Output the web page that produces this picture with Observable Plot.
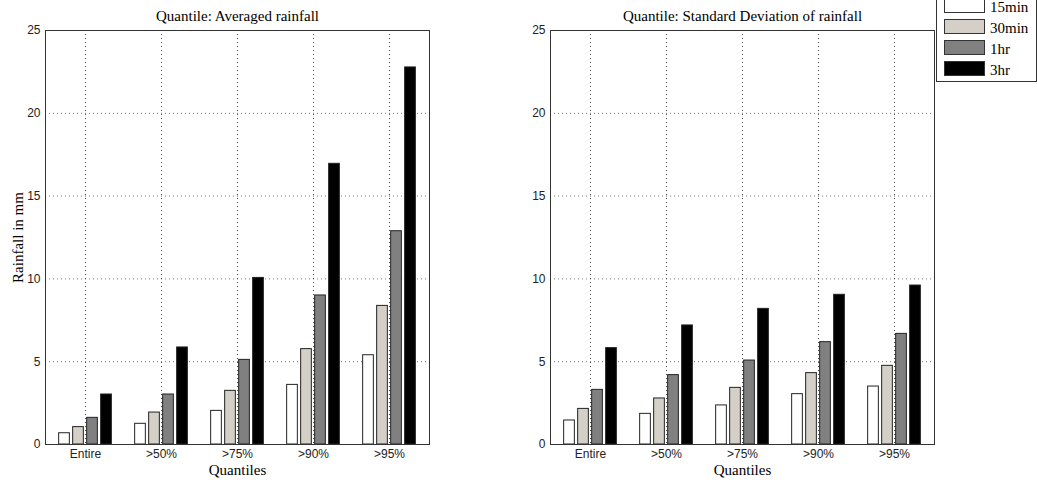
<!DOCTYPE html>
<html>
<head>
<meta charset="utf-8">
<script src="https://cdn.jsdelivr.net/npm/d3@7"></script>
<script src="https://cdn.jsdelivr.net/npm/@observablehq/plot@0.6"></script>
<style>
  html, body { margin: 0; padding: 0; background: #fff; }
  #wrap { position: relative; width: 1037px; height: 480px; overflow: hidden; }
  .panel { position: absolute; top: 0; }
  #legend { position: absolute; left: 936px; top: -5px; width: 99px; height: 85px;
            border: 1px solid #333; background: #fff; font-family: "Liberation Serif", serif; font-size: 15px; }
  .row { position: absolute; left: 7px; height: 16px; }
  .sw { position: absolute; left: 0; top: 0; width: 41px; height: 15px; border: 1px solid #333; box-sizing: border-box; }
  .lb { position: absolute; left: 46px; top: 2px; line-height: 14px; color: #000; white-space: nowrap; }
</style>
</head>
<body>
<div id="wrap"></div>
<script>
// ---- data ----
const quantiles = ["Entire", ">50%", ">75%", ">90%", ">95%"];
const series = ["15min", "30min", "1hr", "3hr"];
const colors = ["#ffffff", "#d4d0c8", "#808080", "#000000"];
const yTicks = [0, 5, 10, 15, 20, 25];

const avg15 = [0.68, 1.25, 2.03, 3.60, 5.39];
const avg30 = [1.05, 1.93, 3.24, 5.76, 8.37];
const avg1h = [1.61, 3.02, 5.11, 9.00, 12.88];
const avg3h = [3.02, 5.86, 10.06, 16.95, 22.77];

const sd15 = [1.45, 1.85, 2.36, 3.04, 3.50];
const sd30 = [2.15, 2.78, 3.42, 4.31, 4.75];
const sd1h = [3.30, 4.19, 5.07, 6.18, 6.68];
const sd3h = [5.82, 7.19, 8.19, 9.04, 9.60];

const titles = ["Quantile: Averaged rainfall", "Quantile: Standard Deviation of rainfall"];

function makePanel(values, title, showYLabel) {
  const W = 518, H = 480, ml = 45, mr = 89, mt = 30, mb = 36;
  const band = (W - ml - mr) / quantiles.length;
  const barW = 11.5, step = 14;
  const serif = "Liberation Serif, Times New Roman, serif";
  const sans = "Liberation Sans, Arial, sans-serif";
  const marks = [
    Plot.gridY(yTicks, {stroke: "#777", strokeOpacity: 1, strokeDasharray: "1,3"}),
    Plot.gridX(quantiles, {stroke: "#444", strokeOpacity: 1, strokeDasharray: "1,3"})
  ];
  series.forEach((s, k) => {
    const data = quantiles.map((q, i) => ({q, v: values[k][i]}));
    const off = (k - 1.5) * step;
    const il = band / 2 + off - barW / 2;
    marks.push(Plot.barY(data, {
      x: "q", y: "v", fill: colors[k], stroke: "#222", strokeWidth: 1,
      insetLeft: il, insetRight: band - il - barW
    }));
  });
  marks.push(Plot.frame({stroke: "#333", strokeWidth: 1}));
  marks.push(Plot.axisY(yTicks, {tickSize: 0, tickPadding: 5, fontSize: 12, fontFamily: sans, label: null, fill: "#222"}));
  marks.push(Plot.axisX(quantiles, {tickSize: 0, tickPadding: 5, fontSize: 12, fontFamily: sans, label: null, fill: "#222"}));
  marks.push(Plot.text([title], {frameAnchor: "top", lineAnchor: "middle", dy: -14, fontFamily: serif, fontSize: 15, fill: "#000"}));
  marks.push(Plot.text(["Quantiles"], {frameAnchor: "bottom", lineAnchor: "middle", dy: 26, fontFamily: serif, fontSize: 15, fill: "#000"}));
  if (showYLabel) {
    marks.push(Plot.text(["Rainfall in mm"], {frameAnchor: "left", textAnchor: "middle", lineAnchor: "middle", dx: -27, rotate: -90, fontFamily: serif, fontSize: 15, fill: "#000"}));
  }
  return Plot.plot({
    width: W, height: H,
    marginLeft: ml, marginRight: mr, marginTop: mt, marginBottom: mb,
    x: {type: "band", domain: quantiles, padding: 0, axis: null},
    y: {domain: [0, 25], axis: null},
    style: {background: "transparent", overflow: "visible"},
    marks
  });
}

const wrap = document.getElementById("wrap");
const p1 = makePanel([avg15, avg30, avg1h, avg3h], titles[0], true);
p1.classList.add("panel"); p1.style.left = "0px";
const p2 = makePanel([sd15, sd30, sd1h, sd3h], titles[1], false);
p2.classList.add("panel"); p2.style.left = "505px";
wrap.appendChild(p1);
wrap.appendChild(p2);

// legend
const lg = document.createElement("div");
lg.id = "legend";
series.forEach((s, k) => {
  const r = document.createElement("div");
  r.className = "row";
  r.style.top = (2 + k * 21) + "px";
  const sw = document.createElement("div");
  sw.className = "sw"; sw.style.background = colors[k];
  const lb = document.createElement("div");
  lb.className = "lb"; lb.textContent = s;
  r.appendChild(sw); r.appendChild(lb);
  lg.appendChild(r);
});
wrap.appendChild(lg);
</script>
</body>
</html>
